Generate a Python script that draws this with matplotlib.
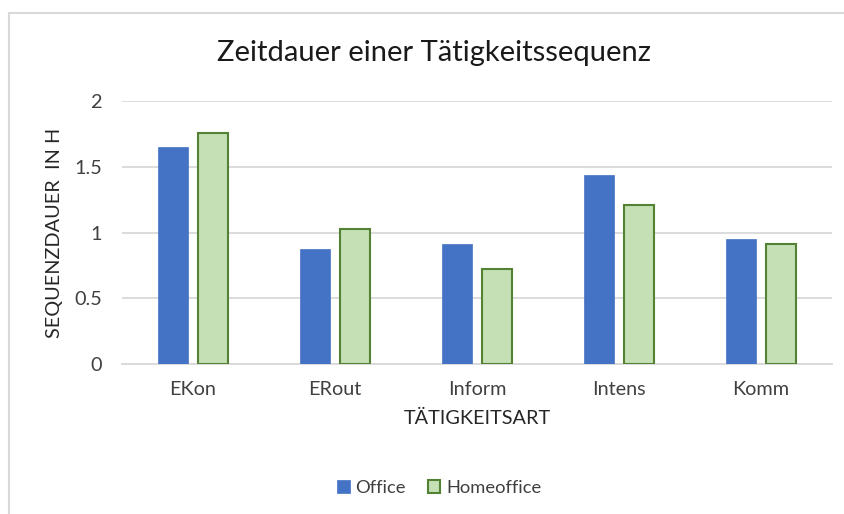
import matplotlib
matplotlib.use("Agg")
import matplotlib.pyplot as plt
import numpy as np
from matplotlib.lines import Line2D

categories = ["EKon", "ERout", "Inform", "Intens", "Komm"]
office = [1.65, 0.875, 0.913, 1.437, 0.95]
homeoffice = [1.757, 1.027, 0.722, 1.209, 0.913]
series_names = ["Office", "Homeoffice"]
yticks = [0, 0.5, 1, 1.5, 2]
ytick_labels = ["0", "0.5", "1", "1.5", "2"]

plt.rcParams['font.family'] = ['Lato', 'DejaVu Sans']
W, H = 845, 514
fig = plt.figure(figsize=(W / 100, H / 100), dpi=100)
ax = fig.add_axes([122 / W, 1 - 364 / H, (832 - 122) / W, (364 - 101) / H])

x = np.arange(len(categories))
bw = 0.215
ax.bar(x - 0.14, office, width=bw, color="#4472C4", edgecolor="#4472C4",
       linewidth=0.5, label=series_names[0], zorder=3)
ax.bar(x + 0.14, homeoffice, width=bw, color="#C5E0B4", edgecolor="#548235",
       linewidth=1.5, label=series_names[1], zorder=3)

ax.set_xlim(-0.5, len(categories) - 0.5)
ax.set_ylim(0, 2)
ax.set_yticks(yticks)
ax.set_yticklabels(ytick_labels)
ax.set_xticks(x)
ax.set_xticklabels(categories)
ax.yaxis.grid(True, color="#D9D9D9", linewidth=1.3, zorder=0)
ax.set_axisbelow(True)
for s in ["top", "right", "left"]:
    ax.spines[s].set_visible(False)
ax.spines["bottom"].set_color("#D9D9D9")
ax.spines["bottom"].set_linewidth(1.3)
ax.tick_params(axis="both", length=0, labelsize=14.3, colors="#404040")
ax.tick_params(axis="y", pad=14.4)
ax.tick_params(axis="x", pad=12)

fig.text(55 / W, 1 - 233 / H, "SEQUENZDAUER  IN H", fontsize=14.3, color="#262626",
         rotation=90, ha="center", va="center")
fig.text(477 / W, 1 - 424 / H, "TÄTIGKEITSART", fontsize=14.3, color="#262626",
         ha="center", va="baseline")

fig.text(434 / W, 1 - 61.5 / H, "Zeitdauer einer Tätigkeitssequenz", fontsize=21,
         ha="center", va="baseline", color="#1a1a1a")

# chart frame
fig.add_artist(Line2D([9 / W, 1], [1 - 13 / H, 1 - 13 / H], color="#D9D9D9", linewidth=1.5))
fig.add_artist(Line2D([9 / W, 9 / W], [0, 1 - 13 / H], color="#D9D9D9", linewidth=1.5))

handles, labels = ax.get_legend_handles_labels()
fig.legend(handles, labels, loc="center", bbox_to_anchor=(439 / W, 1 - 488 / H),
           ncol=2, frameon=False, fontsize=13.2, handlelength=0.7, handleheight=0.7,
           handletextpad=0.3, columnspacing=1.2, labelcolor="#404040")

fig.savefig("out.png", dpi=100)
